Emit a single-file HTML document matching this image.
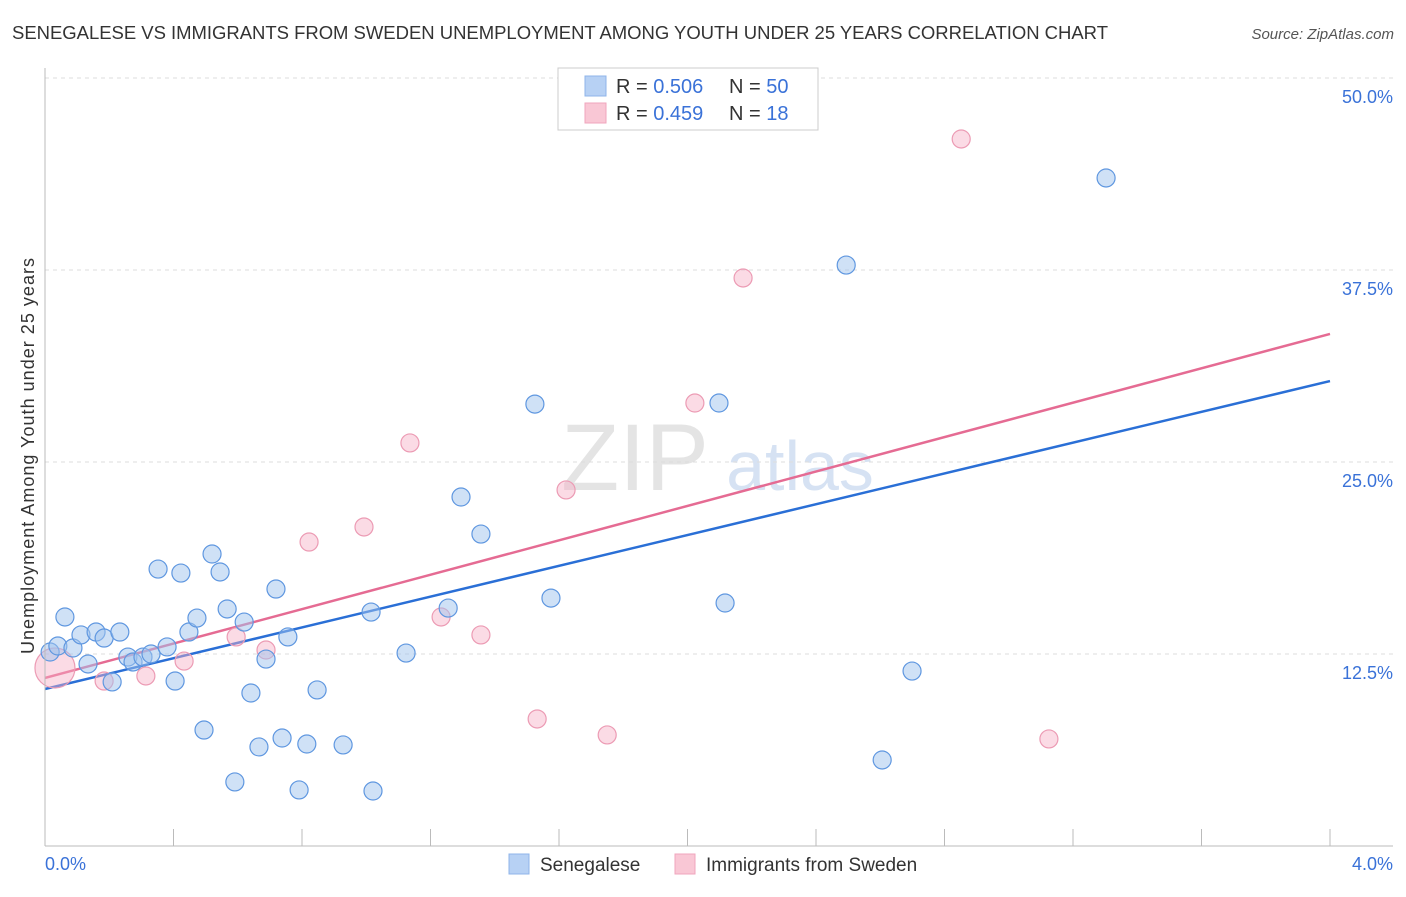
<!DOCTYPE html>
<html><head><meta charset="utf-8"><style>
body{margin:0;background:#fff;font-family:"Liberation Sans",sans-serif;}
svg text{font-family:"Liberation Sans",sans-serif;}
</style></head><body>
<svg id="chart" width="1406" height="892" xmlns="http://www.w3.org/2000/svg">
<text x="12" y="39" font-size="18.5" fill="#333" textLength="1096">SENEGALESE VS IMMIGRANTS FROM SWEDEN UNEMPLOYMENT AMONG YOUTH UNDER 25 YEARS CORRELATION CHART</text>
<text x="1394" y="39" font-size="15" fill="#555" text-anchor="end" font-style="italic">Source: ZipAtlas.com</text>
<text x="34" y="456" font-size="18" fill="#333" text-anchor="middle" transform="rotate(-90 34 456)" textLength="396">Unemployment Among Youth under 25 years</text>
<text x="635" y="490" font-size="95" fill="#e4e4e4" font-family="Liberation Serif" text-anchor="middle">ZIP</text>
<text x="800" y="490" font-size="70" fill="#d6e2f3" text-anchor="middle">atlas</text>
<g id="grid"></g><g id="ticks"></g><g id="lines"></g><g id="pts"></g>
<line x1="45" y1="68" x2="45" y2="846" stroke="#bbb"/>
<line x1="45" y1="846" x2="1393" y2="846" stroke="#bbb"/>
<text x="45" y="870" font-size="18" fill="#3a72d8">0.0%</text>
<text x="1393" y="870" font-size="18" fill="#3a72d8" text-anchor="end">4.0%</text>
<g>
<rect x="558" y="68" width="260" height="62" fill="#fff" stroke="#ccc"/>
<rect x="585" y="76" width="21" height="20" fill="#b7d1f4" stroke="#8fb4ea"/>
<rect x="585" y="103" width="21" height="20" fill="#f9c7d5" stroke="#f0a6bd"/>
<text x="616" y="93" font-size="20" fill="#333">R = <tspan fill="#3a72d8">0.506</tspan></text>
<text x="729" y="93" font-size="20" fill="#333">N = <tspan fill="#3a72d8">50</tspan></text>
<text x="616" y="120" font-size="20" fill="#333">R =  <tspan fill="#3a72d8">0.459</tspan></text>
<text x="729" y="120" font-size="20" fill="#333">N =  <tspan fill="#3a72d8"> 18</tspan></text>
</g>
<g>
<rect x="509" y="854" width="20" height="20" fill="#b7d1f4" stroke="#8fb4ea"/>
<text x="540" y="871" font-size="19" fill="#333">Senegalese</text>
<rect x="675" y="854" width="20" height="20" fill="#f9c7d5" stroke="#f0a6bd"/>
<text x="706" y="871" font-size="19" fill="#333">Immigrants from Sweden</text>
</g>
</svg>
<script>
const yTicks=[12.5,25,37.5,50];
const yTickLabels=["12.5%","25.0%","37.5%","50.0%"];
const xTickVals=[0,0.4,0.8,1.2,1.6,2,2.4,2.8,3.2,3.6,4];
const blueX=[0.016,0.04,0.062,0.087,0.112,0.134,0.159,0.184,0.209,0.233,0.258,0.274,0.305,0.33,0.352,0.38,0.405,0.423,0.448,0.473,0.495,0.52,0.545,0.567,0.591,0.62,0.641,0.666,0.688,0.719,0.738,0.756,0.791,0.815,0.847,0.928,1.015,1.021,1.124,1.255,1.295,1.357,1.525,1.575,2.098,2.117,2.494,2.606,2.699,3.303];
const blueY=[12.63,13.02,14.91,12.89,13.74,11.85,13.93,13.54,10.68,13.93,12.3,11.98,12.3,12.5,18.03,12.96,10.74,17.77,13.93,14.84,7.55,19.01,17.84,15.43,4.17,14.58,9.96,6.45,12.17,16.73,7.03,13.61,3.65,6.64,10.16,6.58,15.23,3.58,12.56,15.49,22.72,20.31,28.77,16.14,28.84,15.82,37.82,5.6,11.39,43.49];
const pinkX=[0.031,0.184,0.314,0.433,0.595,0.688,0.822,0.993,1.136,1.233,1.357,1.532,1.622,1.75,2.023,2.173,2.852,3.125];
const pinkY=[11.59,10.74,11.07,12.04,13.61,12.76,19.79,20.77,26.24,14.91,13.74,8.27,23.18,7.23,28.84,36.98,46.03,6.97];
const blueLine=[10.22,30.27];
const pinkLine=[10.94,33.34];
const NS="http://www.w3.org/2000/svg";
const sx=v=>45+v/4*1285;
const sy=v=>846-v/50*768;
function mk(tag,attrs,parent){const e=document.createElementNS(NS,tag);for(const k in attrs)e.setAttribute(k,attrs[k]);document.getElementById(parent).appendChild(e);return e;}
yTicks.forEach((t,i)=>{
 const l=mk('line',{x1:45,x2:1393,y1:sy(t),y2:sy(t),stroke:'#ddd','stroke-dasharray':'4,4'},'grid');
 
 
 const tx=mk('text',{x:1393,y:sy(t)+25,'font-size':18,fill:'#3a72d8','text-anchor':'end'},'grid');
 tx.textContent=yTickLabels[i];
 
 
});
xTickVals.forEach(v=>{
 const l=mk('line',{x1:sx(v),x2:sx(v),y1:829,y2:846,stroke:'#bbb'},'ticks');
 
 
});
const bl=mk('line',{x1:sx(0),y1:sy(blueLine[0]),x2:sx(4),y2:sy(blueLine[1]),stroke:'#2a6fd6','stroke-width':2.5},'lines');


const pl=mk('line',{x1:sx(0),y1:sy(pinkLine[0]),x2:sx(4),y2:sy(pinkLine[1]),stroke:'#e56b93','stroke-width':2.5},'lines');


pinkX.forEach((x,i)=>{
 const c=mk('circle',{cx:sx(x),cy:sy(pinkY[i]),r:i===0?20:9,fill:'rgba(246,176,198,0.45)',stroke:'#ec9bb4','stroke-width':1.2},'pts');
 
 
});
blueX.forEach((x,i)=>{
 const c=mk('circle',{cx:sx(x),cy:sy(blueY[i]),r:9,fill:'rgba(160,196,238,0.5)',stroke:'#5f97e0','stroke-width':1.2},'pts');
 
 
});
</script>
</body></html>
